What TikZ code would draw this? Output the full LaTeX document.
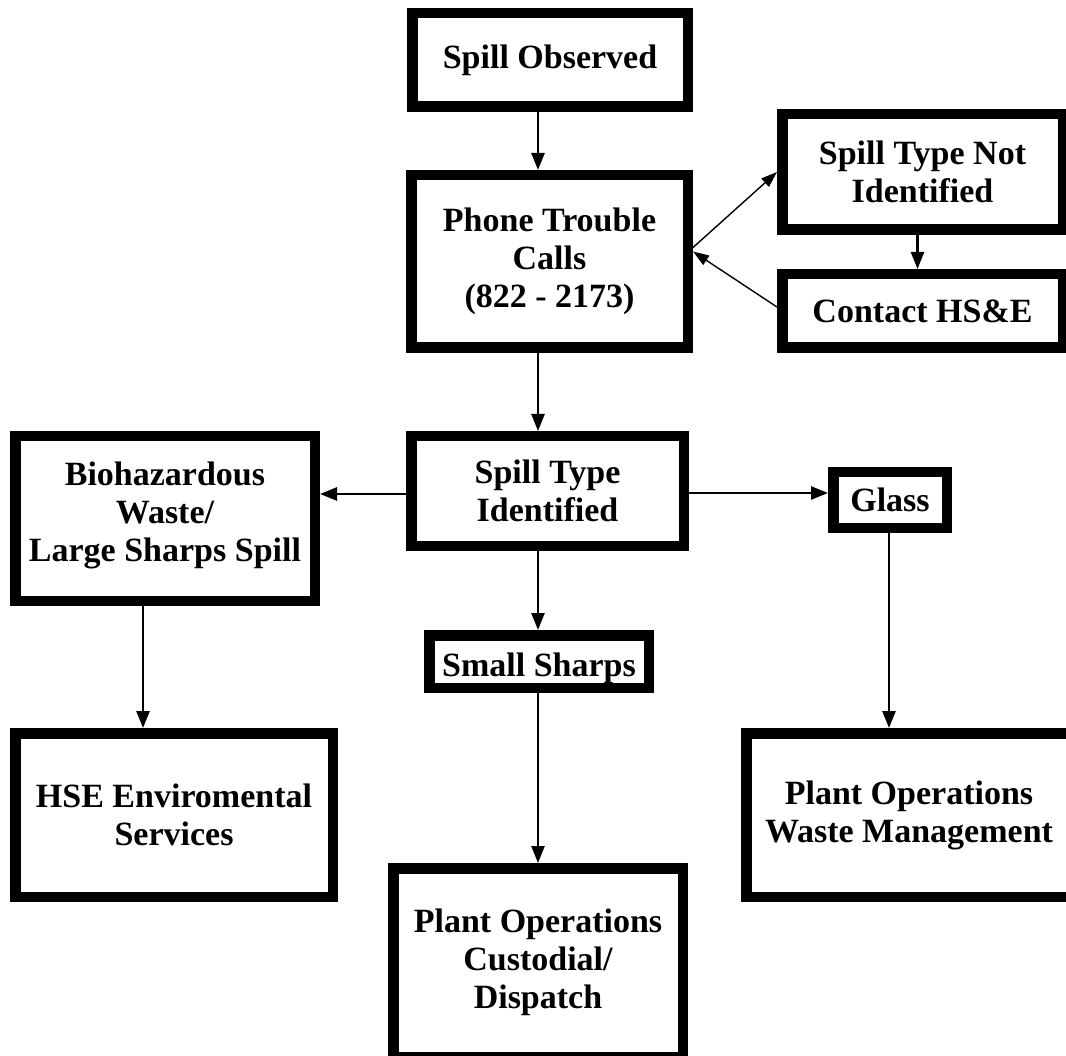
\documentclass[tikz,border=0pt]{standalone}
\usepackage{fontspec}
\setmainfont{Liberation Serif}
\usetikzlibrary{arrows.meta,positioning,calc}

\begin{document}
\begin{tikzpicture}[
    x=1pt, y=-1pt,
    font=\bfseries\fontsize{34}{38}\selectfont,
    blk/.style={rectangle,draw=black,line width=10.5pt,fill=white,
        align=center,inner sep=0pt},
    arr/.style={line width=2.5pt,-{Triangle[length=17pt,width=13pt]}},
    tarr/.style={line width=1.4pt,-{Triangle[length=16pt,width=11pt]}},
    ]
    \useasboundingbox (0,0) rectangle (1066,1056);
    \clip (0,0) rectangle (1066,1056);
    % boxes (outer size minus line width)
    \node[blk,minimum width=275.5pt,minimum height=93.5pt] (obs) at (550,60)
        {Spill Observed};
    \node[blk,minimum width=276.5pt,minimum height=172.5pt] (phone) at (549.5,261.5)
        {Phone Trouble\\Calls\\(822 - 2173)};
    \node[blk,minimum width=280.5pt,minimum height=115.5pt] (notid) at (922.5,172)
        {Spill Type Not\\Identified};
    \node[blk,minimum width=280.5pt,minimum height=73.5pt] (hse) at (922.5,311)
        {Contact HS\&E};
    \node[blk,minimum width=272.5pt,minimum height=109.5pt] (typeid) at (547.5,491)
        {Spill Type\\Identified};
    \node[blk,minimum width=299.5pt,minimum height=164.5pt] (bio) at (165,518.5)
        {Biohazardous\\Waste/\\Large Sharps Spill\\[-24pt]};
    \node[blk,minimum width=113.5pt,minimum height=55.5pt] (glass) at (890,500)
        {Glass};
    \node[blk,minimum width=219.5pt,minimum height=52.5pt] (sharps) at (539,661.5)
        {\raisebox{-15pt}[0pt][0pt]{Small Sharps}};
    \node[blk,minimum width=317.5pt,minimum height=163.5pt] (envsvc) at (174,815)
        {HSE Enviromental\\Services};
    \node[blk,minimum width=325.5pt,minimum height=163.5pt] (waste) at (909,815)
        {Plant Operations\\Waste Management};
    \node[blk,minimum width=289.5pt,minimum height=188.5pt] (cust) at (538,962.5)
        {Plant Operations\\Custodial/\\Dispatch};
    % connectors
    \draw[arr] (obs.south -| cust.north) -- (phone.north -| cust.north);
    \draw[tarr] ([yshift=14pt]phone.east) -- (notid.west);
    \draw[tarr] ([yshift=4pt]hse.west) -- ([yshift=10pt]phone.east);
    \draw[arr] ([xshift=-5pt]notid.south) -- ([xshift=-5pt]hse.north);
    \draw[arr] (phone.south -| cust.north) -- (typeid.north -| cust.north);
    \draw[arr] ([yshift=-3pt]typeid.west) -- ([yshift=-3pt]typeid.west -| bio.east);
    \draw[arr] ([yshift=-2pt]typeid.east) -- ([yshift=-2pt]typeid.east -| glass.west);
    \draw[arr] (typeid.south -| cust.north) -- (sharps.north -| cust.north);
    \draw[arr] ([xshift=-22pt]bio.south) -- ([xshift=-22pt]bio.south |- envsvc.north);
    \draw[arr] ([xshift=-1pt]glass.south) -- ([xshift=-1pt]glass.south |- waste.north);
    \draw[arr] (sharps.south -| cust.north) -- (cust.north);
\end{tikzpicture}
\end{document}
